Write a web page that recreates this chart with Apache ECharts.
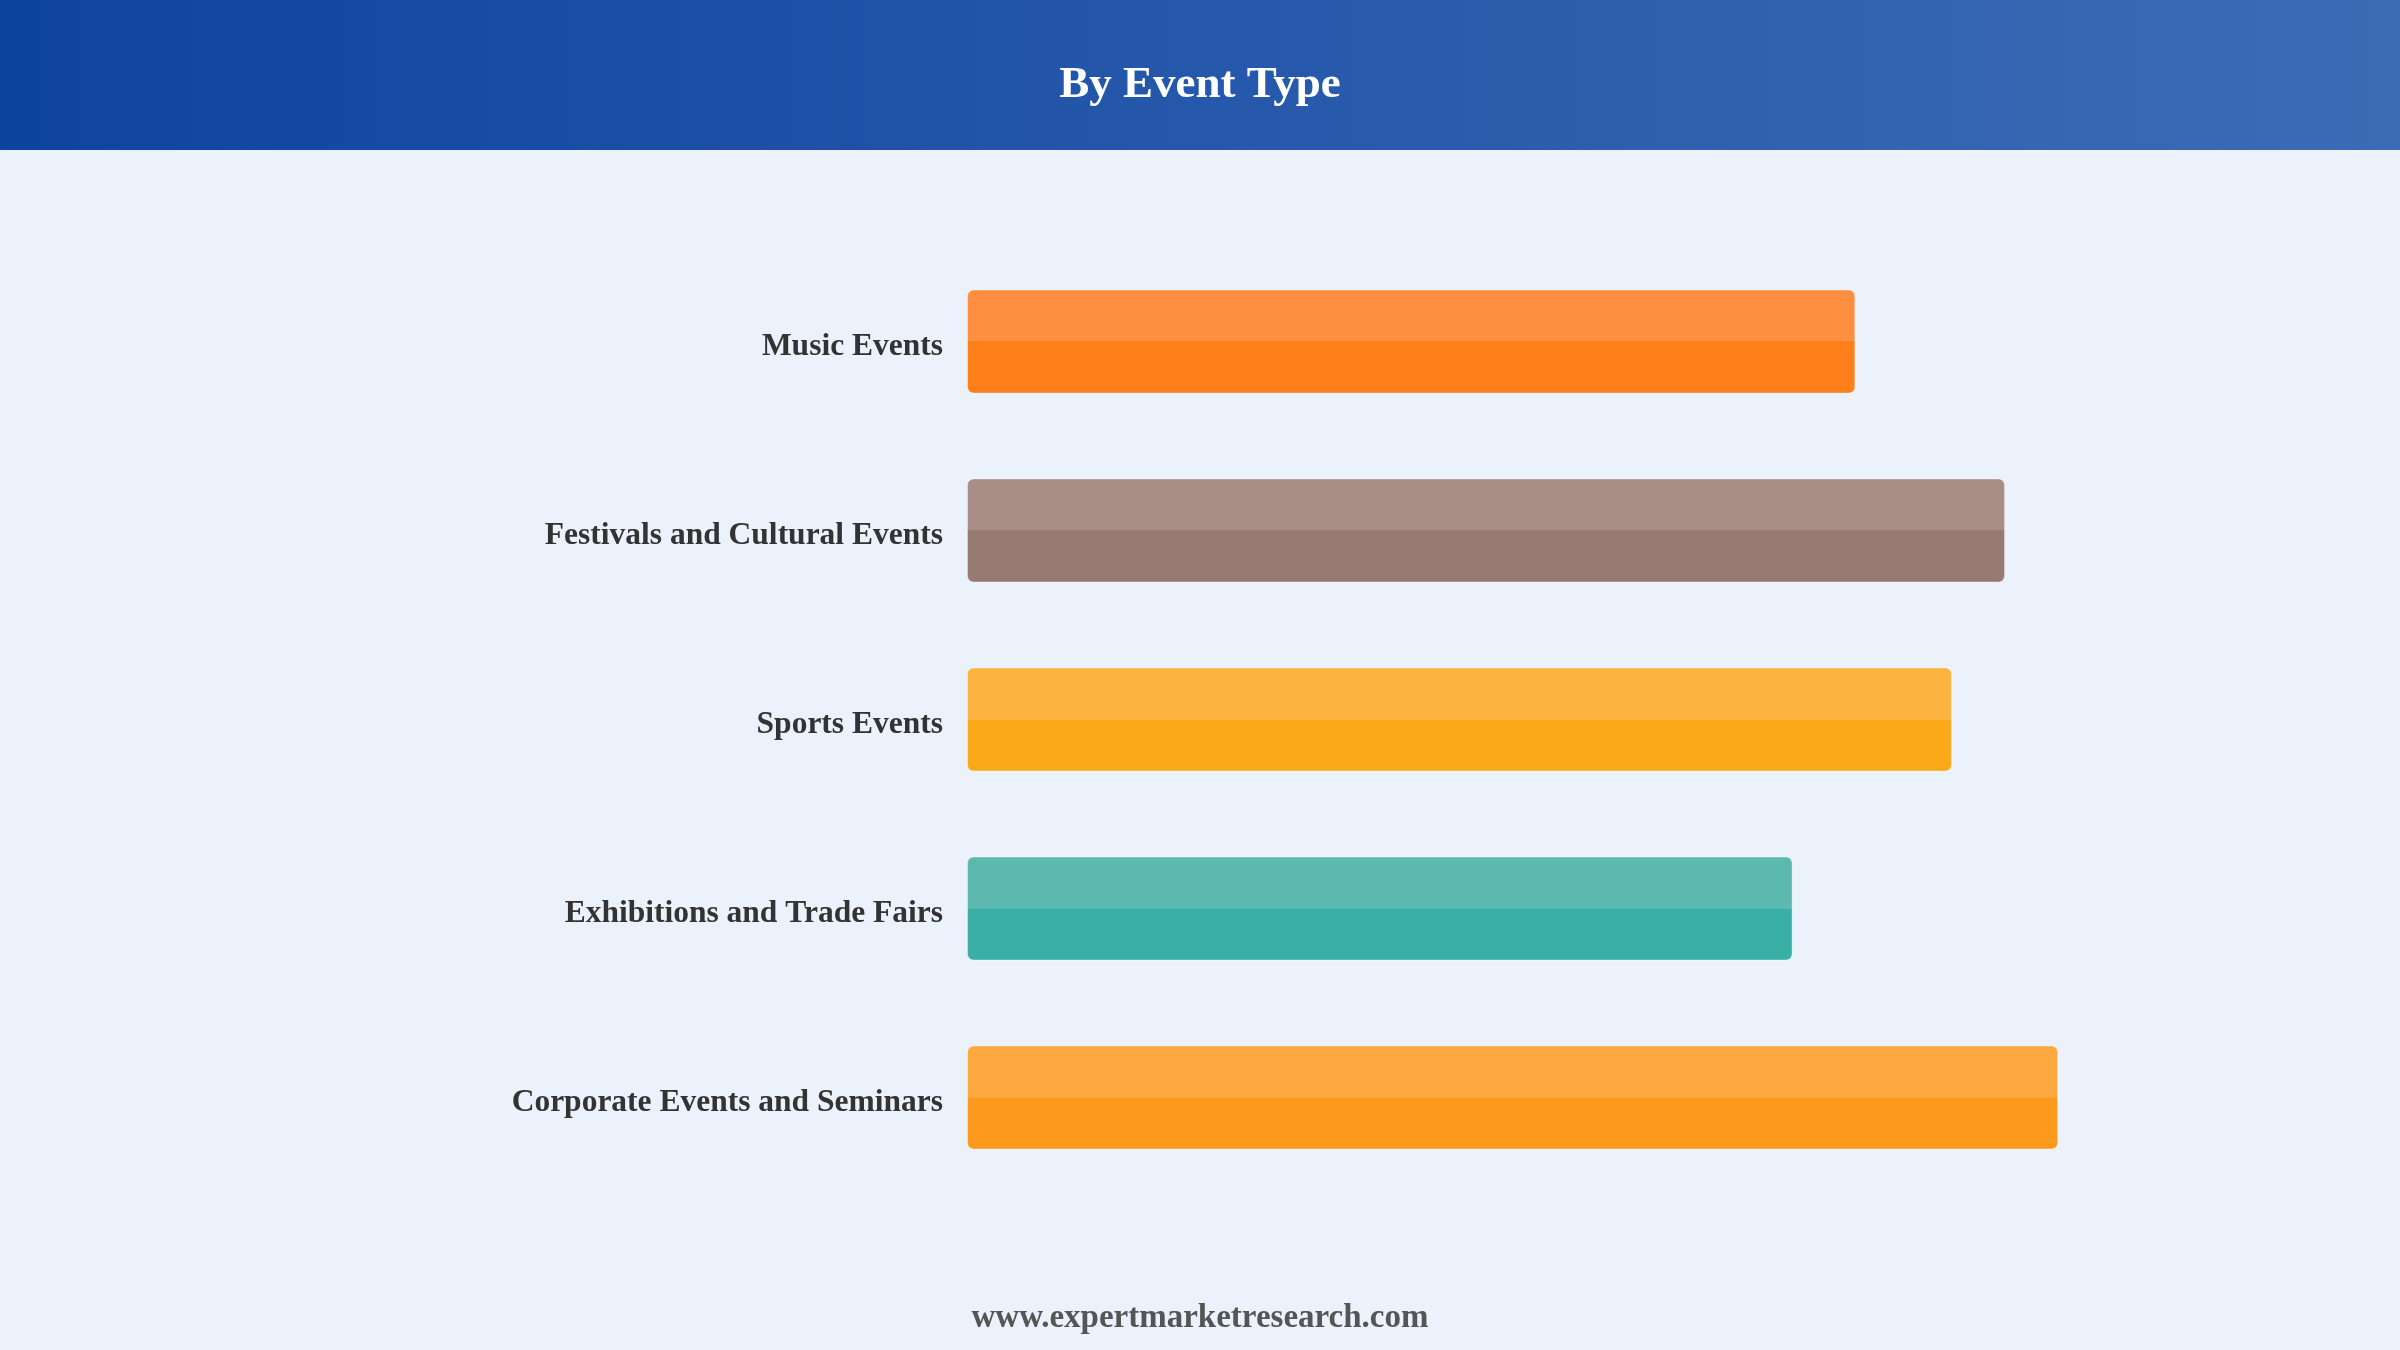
<!DOCTYPE html>
<html>
<head>
<meta charset="utf-8">
<title>By Event Type</title>
<script src="https://cdn.jsdelivr.net/npm/echarts@6/dist/echarts.min.js"></script>
<style>
  html, body { margin: 0; padding: 0; background: #EBF2FB; }
  #main { width: 2400px; height: 1350px; }
</style>
</head>
<body>
<div id="main"></div>
<script>
// categories, top to bottom
var categories = ['Music Events', 'Festivals and Cultural Events', 'Sports Events', 'Exhibitions and Trade Fairs', 'Corporate Events and Seminars'];
// share values
var values = [18.4, 21.5, 20.4, 17.1, 22.6];
// light top half / base bottom half per bar
var topColors = ['#FF8F40', '#A88E86', '#FBB43F', '#5BB9B0', '#FEA940'];
var baseColors = ['#FF7F1A', '#977A71', '#FAA918', '#3AAFA6', '#FD9A1E'];

var serif = '"Liberation Serif", "Times New Roman", serif';

let myChart = echarts.init(document.getElementById('main'));

let barData = [];
for (let i = 0; i < values.length; i++) {
    barData.push({
        value: values[i],
        itemStyle: {
            color: new echarts.graphic.LinearGradient(0, 0, 0, 1, [
                { offset: 0, color: topColors[i] },
                { offset: 0.5, color: topColors[i] },
                { offset: 0.5, color: baseColors[i] },
                { offset: 1, color: baseColors[i] }
            ]),
            borderColor: 'rgba(255,255,255,0.35)',
            borderWidth: 1,
            borderRadius: 6
        }
    });
}

let option = {
    backgroundColor: '#EBF2FB',
    animation: false,
    graphic: [{
        type: 'rect',
        left: 0,
        top: 0,
        z: 0,
        shape: { width: 2400, height: 150 },
        style: {
            fill: new echarts.graphic.LinearGradient(0, 0, 1, 0, [
                { offset: 0, color: '#0D44A0' },
                { offset: 1, color: '#3D6CB5' }
            ])
        }
    }],
    title: [{
        text: 'By Event Type',
        left: 'center',
        top: 58,
        textStyle: {
            color: '#ffffff',
            fontFamily: serif,
            fontWeight: 'bold',
            fontSize: 45
        }
    }, {
        text: 'www.expertmarketresearch.com',
        left: 'center',
        top: 1297,
        textStyle: {
            color: '#555555',
            fontFamily: serif,
            fontWeight: 'bold',
            fontSize: 33
        }
    }],
    grid: {
        left: 967,
        right: 226,
        top: 247,
        bottom: 158
    },
    xAxis: {
        type: 'value',
        min: 0,
        max: 25,
        show: false
    },
    yAxis: {
        type: 'category',
        inverse: true,
        data: categories,
        axisLine: { show: false },
        axisTick: { show: false },
        splitLine: { show: false },
        axisLabel: {
            margin: 24,
            formatter: function (v) { return '{t|' + v + '}'; },
            rich: {
                t: {
                    padding: [10, 0, 0, 0],
                    color: '#333333',
                    fontFamily: serif,
                    fontWeight: 'bold',
                    fontSize: 31.5
                }
            }
        }
    },
    series: [{
        name: 'Share',
        type: 'bar',
        barWidth: 104,
        data: barData
    }]
};
myChart.setOption(option);
</script>
</body>
</html>
